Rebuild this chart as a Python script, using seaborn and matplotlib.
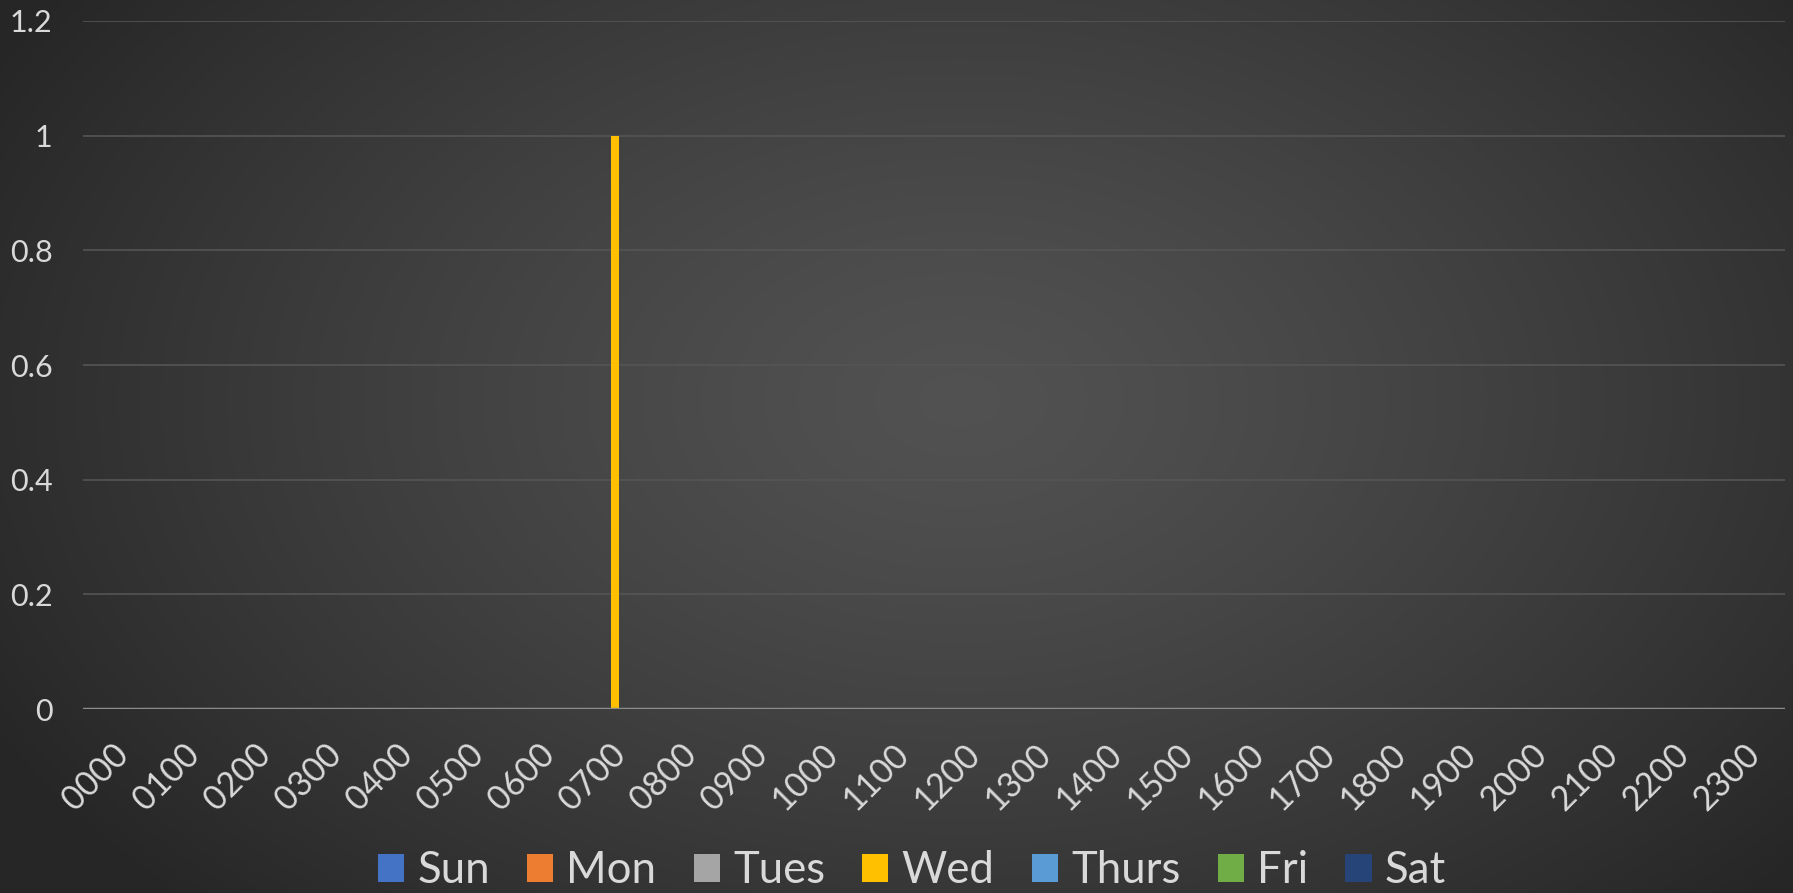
import pandas as pd
import seaborn as sns
import numpy as np
import matplotlib.pyplot as plt
import matplotlib.transforms as mtransforms

# hour buckets and one series per weekday
hours = ['0000', '0100', '0200', '0300', '0400', '0500', '0600', '0700',
         '0800', '0900', '1000', '1100', '1200', '1300', '1400', '1500',
         '1600', '1700', '1800', '1900', '2000', '2100', '2200', '2300']
days = ['Sun', 'Mon', 'Tues', 'Wed', 'Thurs', 'Fri', 'Sat']
sun   = [0, 0, 0, 0, 0, 0, 0, 0, 0, 0, 0, 0, 0, 0, 0, 0, 0, 0, 0, 0, 0, 0, 0, 0]
mon   = [0, 0, 0, 0, 0, 0, 0, 0, 0, 0, 0, 0, 0, 0, 0, 0, 0, 0, 0, 0, 0, 0, 0, 0]
tues  = [0, 0, 0, 0, 0, 0, 0, 0, 0, 0, 0, 0, 0, 0, 0, 0, 0, 0, 0, 0, 0, 0, 0, 0]
wed   = [0, 0, 0, 0, 0, 0, 0, 1, 0, 0, 0, 0, 0, 0, 0, 0, 0, 0, 0, 0, 0, 0, 0, 0]
thurs = [0, 0, 0, 0, 0, 0, 0, 0, 0, 0, 0, 0, 0, 0, 0, 0, 0, 0, 0, 0, 0, 0, 0, 0]
fri   = [0, 0, 0, 0, 0, 0, 0, 0, 0, 0, 0, 0, 0, 0, 0, 0, 0, 0, 0, 0, 0, 0, 0, 0]
sat   = [0, 0, 0, 0, 0, 0, 0, 0, 0, 0, 0, 0, 0, 0, 0, 0, 0, 0, 0, 0, 0, 0, 0, 0]
colors = ['#4472C4', '#ED7D31', '#A5A5A5', '#FFC000', '#5B9BD5', '#70AD47', '#264478']

series = [sun, mon, tues, wed, thurs, fri, sat]
rows = []
for d, vals in zip(days, series):
    for h, v in zip(hours, vals):
        rows.append({'hour': h, 'day': d, 'count': v})
df = pd.DataFrame(rows)

sns.set_style('dark')
plt.rcParams['font.family'] = ['Lato', 'DejaVu Sans']

fig = plt.figure(figsize=(17.93, 8.93), dpi=100)

# radial gradient background like the Excel dark theme
bg = fig.add_axes([0, 0, 1, 1], zorder=-10)
yy, xx = np.mgrid[0:893, 0:1793]
r = np.sqrt(((xx - 960) / 1000.0) ** 2 + ((yy - 400) / 650.0) ** 2)
shade = np.clip(0.32 - 0.15 * r ** 1.3, 0.15, 0.33)
bg.imshow(np.dstack([shade, shade, shade]), aspect='auto', extent=[0, 1, 0, 1])
bg.axis('off')

ax = fig.add_axes([0.0463, 0.206, 0.9492, 0.7705])
ax.set_facecolor('none')
sns.barplot(data=df, x='hour', y='count', hue='day', hue_order=days,
            palette=colors, order=hours, width=0.8, linewidth=0,
            saturation=1, ax=ax)

ax.set_ylim(0, 1.2)
ax.set_xlim(-0.5, 23.5)
ax.set_yticks([0, 0.2, 0.4, 0.6, 0.8, 1.0, 1.2])
ax.set_yticklabels(['0', '0.2', '0.4', '0.6', '0.8', '1', '1.2'])
ax.grid(axis='y', color='#555555', linewidth=1.2)
ax.set_axisbelow(True)
ax.axhline(0, color='#8c8c8c', linewidth=2.5, zorder=5)
for s in ax.spines.values():
    s.set_visible(False)
ax.tick_params(axis='y', colors='#d9d9d9', labelsize=22, length=0, pad=22)
ax.tick_params(axis='x', colors='#d9d9d9', labelsize=24.5, length=0, pad=21)
shift = mtransforms.ScaledTranslation(-6 / 100, 0, fig.dpi_scale_trans)
for lbl in ax.get_xticklabels():
    lbl.set_rotation(45)
    lbl.set_ha('right')
    lbl.set_rotation_mode('anchor')
    lbl.set_transform(lbl.get_transform() + shift)
ax.set_xlabel('')
ax.set_ylabel('')

sns.move_legend(ax, 'center', bbox_to_anchor=(0.487, -0.235), ncol=7,
                frameon=False, title=None, fontsize=31.5, labelcolor='#d9d9d9',
                handlelength=0.6, handleheight=0.6, handletextpad=0.3,
                columnspacing=0.85)

plt.savefig('out.png', dpi=100)
